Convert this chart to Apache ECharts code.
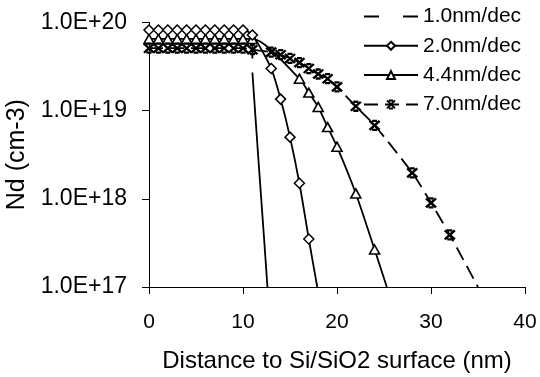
<!DOCTYPE html>
<html><head><meta charset="utf-8">
<script src="https://cdn.jsdelivr.net/npm/echarts@6/dist/echarts.min.js"></script>
<style>html,body{margin:0;padding:0;background:#fff}#c{width:540px;height:377px}</style>
</head><body><div id="c"></div>
<script>
const seriesNames = ['1.0nm/dec', '2.0nm/dec', '4.4nm/dec', '7.0nm/dec'];
const yTickLabels = ['1.0E+17', '1.0E+18', '1.0E+19', '1.0E+20'];
const xTickLabels = ['0', '10', '20', '30', '40'];

// 1.0 nm/dec
const x10 = [0, 1, 2, 3, 4, 5, 6, 7, 8, 9, 10, 11, 11.0, 11.6, 12.23, 12.6];
const y10 = [8.2e19, 8.2e19, 8.2e19, 8.2e19, 8.2e19, 8.2e19, 8.2e19, 8.2e19, 8.2e19, 8.2e19, 8.2e19, 8.2e19, 2.7e19, 3.2e18, 3.7e17, 1e17];
// 2.0 nm/dec
const x20 = [0, 1, 2, 3, 4, 5, 6, 7, 8, 9, 10, 11, 13, 14, 15, 16, 17, 17.9];
const y20 = [8.2e19, 8.2e19, 8.2e19, 8.2e19, 8.2e19, 8.2e19, 8.2e19, 8.2e19, 8.2e19, 8.2e19, 8.2e19, 7.2e19, 3.0e19, 1.35e19, 5e18, 1.5e18, 3.5e17, 1e17];
// 4.4 nm/dec
const x44 = [0, 1, 2, 3, 4, 5, 6, 7, 8, 9, 10, 11, 16, 17, 18, 19, 20, 22, 24, 25.3];
const y44 = [6.5e19, 6.5e19, 6.5e19, 6.5e19, 6.5e19, 6.5e19, 6.5e19, 6.5e19, 6.5e19, 6.5e19, 6.5e19, 6.5e19, 2.3e19, 1.6e19, 1.1e19, 6.5e18, 3.9e18, 1.15e18, 2.66e17, 1e17];
// 7.0 nm/dec
const x70 = [0, 1, 2, 3, 4, 5, 6, 7, 8, 9, 10, 11, 13, 14, 15, 16, 17, 18, 19, 20, 22, 24, 28, 30, 32, 35];
const y70 = [5.1e19, 5.1e19, 5.1e19, 5.1e19, 5.1e19, 5.1e19, 5.1e19, 5.1e19, 5.1e19, 5.1e19, 5.1e19, 4.9e19, 4.6e19, 4.3e19, 3.9e19, 3.5e19, 3.0e19, 2.6e19, 2.3e19, 1.86e19, 1.12e19, 6.8e18, 1.97e18, 9e17, 3.9e17, 1e17];

const Y_MIN = 1e17, Y_MAX = 1e20;
function pts(xs, ys) {
  return xs.map((x, i) => ys[i] <= Y_MIN ? { value: [x, ys[i]], symbol: 'none' } : [x, ys[i]]);
}
const FONT = 'Liberation Sans, Arial, sans-serif';
const starPath = 'path://M0,0L10,10M10,0L0,10M2.5,0L7.5,0M2.5,10L7.5,10';
const chart = echarts.init(document.getElementById('c'), null, { renderer: 'canvas' });
const lineBase = { type: 'line', animation: false, clip: true, smooth: 0.25, z: 2 };
const all10 = pts(x10, y10);
chart.setOption({
  backgroundColor: '#fff',
  textStyle: { fontFamily: FONT, color: '#000' },
  grid: { left: 149, right: 15, top: 22.4, bottom: 90, containLabel: false, outerBoundsMode: 'none' },
  legend: {
    data: [
      { name: seriesNames[0], itemStyle: { opacity: 0 } },
      seriesNames[1], seriesNames[2], seriesNames[3]
    ],
    orient: 'vertical', left: 363, top: 6, padding: 0,
    itemWidth: 54, itemHeight: 10, itemGap: 8.3,
    textStyle: { fontFamily: FONT, fontSize: 21, color: '#000' },
    inactiveColor: '#000'
  },
  xAxis: {
    type: 'value', min: 0, max: 40, interval: 10,
    axisLine: { show: true, onZero: false, lineStyle: { color: '#000', width: 1 } },
    axisTick: { show: true, inside: false, length: 7, lineStyle: { color: '#000' } },
    splitLine: { show: false },
    axisLabel: { color: '#000', fontSize: 21, fontFamily: FONT, margin: 25,
      formatter: v => xTickLabels[Math.round(v / 10)] },
    name: 'Distance to Si/SiO2 surface (nm)', nameLocation: 'middle', nameGap: 62,
    nameTextStyle: { color: '#000', fontSize: 24, fontFamily: FONT }
  },
  yAxis: {
    type: 'log', logBase: 10, min: Y_MIN, max: Y_MAX,
    axisLine: { show: true, lineStyle: { color: '#000', width: 1 } },
    axisTick: { show: true, inside: false, length: 7, lineStyle: { color: '#000' } },
    minorTick: { show: false },
    splitLine: { show: false },
    axisLabel: { color: '#000', fontSize: 23, fontFamily: FONT, margin: 22,
      formatter: v => yTickLabels[Math.round(Math.log10(v)) - 17] },
    name: 'Nd (cm-3)', nameLocation: 'middle', nameGap: 114,
    nameTextStyle: { color: '#000', fontSize: 25, fontFamily: FONT }
  },
  series: [
    Object.assign({}, lineBase, {
      name: seriesNames[0], data: all10.slice(0, 13), smooth: false, symbol: 'none', z: 1,
      lineStyle: { color: '#000', width: 1.8, type: [15, 24] }, itemStyle: { color: '#000' }
    }),
    Object.assign({}, lineBase, {
      name: seriesNames[0] + ' ', data: all10.slice(12), symbol: 'none', z: 1,
      lineStyle: { color: '#000', width: 1.8, type: 'solid' }, itemStyle: { color: '#000' }
    }),
    Object.assign({}, lineBase, {
      name: seriesNames[2], data: pts(x44, y44), symbol: 'triangle', symbolSize: [10, 9], z: 2,
      lineStyle: { color: '#000', width: 1.8 }, itemStyle: { color: '#fff', borderColor: '#000', borderWidth: 1.6 }
    }),
    Object.assign({}, lineBase, {
      name: seriesNames[1], data: pts(x20, y20), symbol: 'diamond', symbolSize: [10, 10], z: 3,
      lineStyle: { color: '#000', width: 1.8 }, itemStyle: { color: '#fff', borderColor: '#000', borderWidth: 1.5 }
    }),
    Object.assign({}, lineBase, {
      name: seriesNames[3], data: pts(x70, y70), symbol: starPath, symbolSize: [10, 9], z: 4,
      lineStyle: { color: '#000', width: 1.8, type: [14, 7] },
      itemStyle: { color: 'rgba(0,0,0,0)', borderColor: '#000', borderWidth: 2.4 }
    })
  ]
});
</script></body></html>
